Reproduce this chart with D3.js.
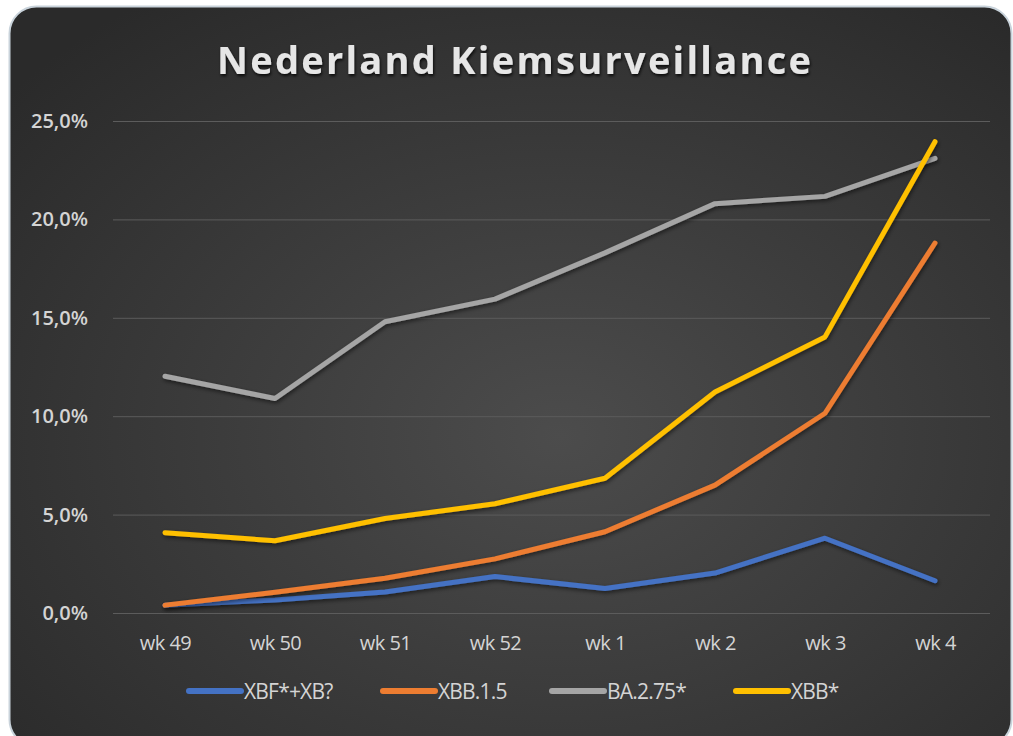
<!DOCTYPE html>
<html>
<head>
<meta charset="utf-8">
<script src="https://cdn.jsdelivr.net/npm/d3@7"></script>
<style>
  html, body { margin: 0; padding: 0; background: #fff; }
  svg { display: block; }
</style>
</head>
<body>
<svg id="chart" width="1013" height="736"></svg>
<script>
// data
const weeks = ['wk 49', 'wk 50', 'wk 51', 'wk 52', 'wk 1', 'wk 2', 'wk 3', 'wk 4'];
const xbfXb = [0.4, 0.66, 1.07, 1.85, 1.25, 2.03, 3.8, 1.64];
const xbb15 = [0.4, 1.05, 1.77, 2.75, 4.13, 6.5, 10.15, 18.8];
const ba275 = [12.03, 10.9, 14.8, 15.95, 18.3, 20.8, 21.17, 23.1];
const xbb = [4.08, 3.67, 4.8, 5.55, 6.85, 11.23, 14.03, 23.95];
const yTicks = [0, 5, 10, 15, 20, 25];

const series = [
  { name: 'XBF*+XB?', values: xbfXb, color: '#4472C4' },
  { name: 'XBB.1.5', values: xbb15, color: '#ED7D31' },
  { name: 'BA.2.75*', values: ba275, color: '#A5A5A5' },
  { name: 'XBB*', values: xbb, color: '#FFC000' }
];

const svg = d3.select('#chart');
const defs = svg.append('defs');

const bg = defs.append('radialGradient')
  .attr('id', 'bg')
  .attr('cx', '55%').attr('cy', '58%').attr('r', '72%');
bg.append('stop').attr('offset', '0%').attr('stop-color', '#4c4c4c');
bg.append('stop').attr('offset', '100%').attr('stop-color', '#2a2a2a');

const shadow = defs.append('filter').attr('id', 'shadow')
  .attr('filterUnits', 'userSpaceOnUse')
  .attr('x', 0).attr('y', 0).attr('width', 1013).attr('height', 736);
shadow.append('feDropShadow')
  .attr('dx', 1).attr('dy', 2).attr('stdDeviation', 2)
  .attr('flood-color', '#000').attr('flood-opacity', 0.55);

const glow = defs.append('filter').attr('id', 'glow')
  .attr('x', '-5%').attr('y', '-30%').attr('width', '110%').attr('height', '160%');
glow.append('feDropShadow')
  .attr('dx', 1).attr('dy', 2).attr('stdDeviation', 1.5)
  .attr('flood-color', '#000').attr('flood-opacity', 0.8);

// card
svg.append('rect')
  .attr('x', 9.5).attr('y', 6.5)
  .attr('width', 1002).attr('height', 740)
  .attr('rx', 27)
  .attr('fill', 'url(#bg)')
  .attr('stroke', '#c9d3db')
  .attr('stroke-width', 2);

svg.append('text')
  .attr('x', 514).attr('y', 74)
  .attr('text-anchor', 'middle')
  .attr('font-family', '"Open Sans", sans-serif')
  .attr('font-weight', 'bold')
  .attr('font-size', 38)
  .attr('textLength', 594)
  .attr('lengthAdjust', 'spacing')
  .attr('fill', '#e6e6e6')
  .attr('filter', 'url(#glow)')
  .text('Nederland Kiemsurveillance');

const x = d3.scalePoint()
  .domain(weeks)
  .range([110, 990])
  .padding(0.5);

const y = d3.scaleLinear()
  .domain([0, 25])
  .range([613, 121]);

// gridlines + y labels
const yAxis = svg.append('g')
  .attr('transform', 'translate(113,0)')
  .call(d3.axisLeft(y)
    .tickValues(yTicks)
    .tickSize(-877)
    .tickPadding(25)
    .tickFormat(d => d3.format('.1f')(d).replace('.', ',') + '%'));
yAxis.select('.domain').remove();
yAxis.selectAll('.tick line').attr('stroke', '#5c5c5c').attr('stroke-width', 1);
yAxis.selectAll('.tick text')
  .attr('fill', '#d4d4d4')
  .attr('font-family', '"Open Sans", sans-serif')
  .attr('font-size', 20)
  .attr('font-weight', 600);

// x labels
const xAxis = svg.append('g')
  .attr('transform', 'translate(0,613)')
  .call(d3.axisBottom(x).tickSize(0).tickPadding(23));
xAxis.select('.domain').remove();
xAxis.selectAll('.tick text')
  .attr('fill', '#d4d4d4')
  .attr('font-family', '"Open Sans", sans-serif')
  .attr('font-size', 20)
  .attr('letter-spacing', -0.5);

const line = d3.line()
  .x((d, i) => x(weeks[i]))
  .y(d => y(d));

svg.append('g')
  .selectAll('path')
  .data(series)
  .join('path')
    .attr('d', d => line(d.values))
    .attr('fill', 'none')
    .attr('stroke', d => d.color)
    .attr('stroke-width', 5)
    .attr('stroke-linejoin', 'round')
    .attr('stroke-linecap', 'round')
    .attr('filter', 'url(#shadow)');

// legend
const legendX = [186, 380, 549, 733];
const legend = svg.append('g')
  .selectAll('g')
  .data(series)
  .join('g')
    .attr('transform', (d, i) => `translate(${legendX[i]},691)`);
legend.append('path')
  .attr('d', 'M3,0H55')
  .attr('fill', 'none')
  .attr('stroke', d => d.color)
  .attr('stroke-width', 6)
  .attr('stroke-linecap', 'round');
legend.append('text')
  .attr('x', 58).attr('y', 8)
  .attr('fill', '#d4d4d4')
  .attr('font-family', '"Open Sans", sans-serif')
  .attr('font-size', 21)
  .attr('letter-spacing', -0.8)
  .text(d => d.name);
</script>
</body>
</html>
